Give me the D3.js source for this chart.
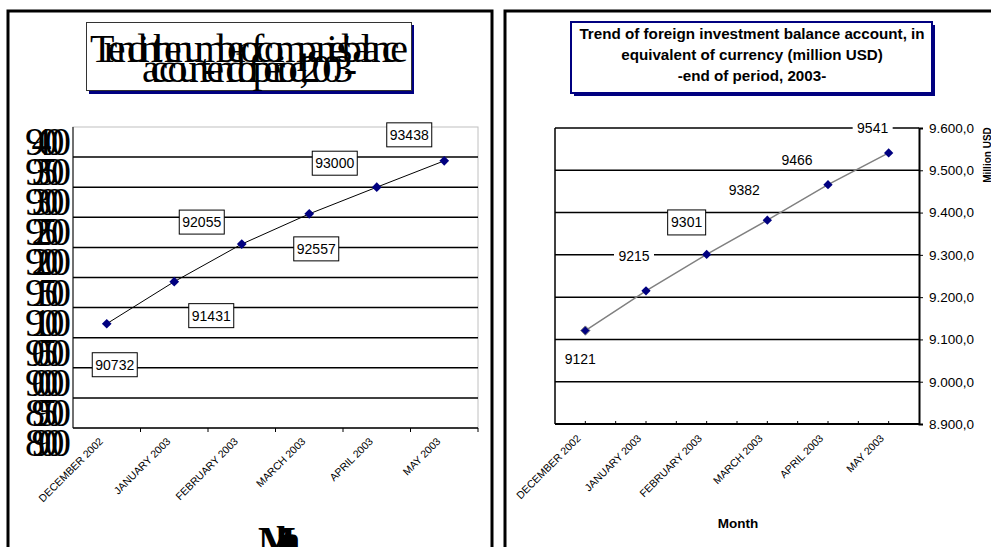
<!DOCTYPE html>
<html><head><meta charset="utf-8">
<script src="https://cdn.jsdelivr.net/npm/d3@7"></script>
<style>html,body{margin:0;padding:0;background:#fff;}svg{display:block;}</style>
</head><body>
<svg id="c" width="991" height="547"></svg>
<script>
// ---- data ----
const months = ["DECEMBER 2002","JANUARY 2003","FEBRUARY 2003","MARCH 2003","APRIL 2003","MAY 2003"];
const companies = [90732, 91431, 92055, 92557, 93000, 93438];
const investment = [9121, 9215, 9301, 9382, 9466, 9541];
const leftTicks = [89000,89500,90000,90500,91000,91500,92000,92500,93000,93500,94000];
const rightTicks = [8900,9000,9100,9200,9300,9400,9500,9600];
const leftTitle = ["Trend in the number of companies' balance","account -end of period, 2003-"];
const rightTitle = ["Trend of foreign investment balance account, in","equivalent of currency (million USD)","-end of period, 2003-"];
const xTitle = "Month";
const rightYTitle = "Million USD";

// ---- layout (label offsets from their points) ----
const leftLabelOff = [[8,41],[37,34],[-40,-22],[7,35],[-42,-24],[-35,-26]];
const rightLabelOff = [[-5,28],[-12,-35],[-20,-32],[-23,-30],[-31,-25],[-16,-25]];
const rightLabelBoxed = [false,false,true,false,false,false];

const svg = d3.select("#c");
const SANS = "'Liberation Sans', Arial, sans-serif";
const SERIF = "'Liberation Serif', 'Times New Roman', serif";

// panels
svg.append("rect").attr("x",8).attr("y",11).attr("width",484).attr("height",560)
  .attr("fill","none").attr("stroke","#000").attr("stroke-width",3);
svg.append("rect").attr("x",505).attr("y",11).attr("width",500).attr("height",560)
  .attr("fill","none").attr("stroke","#000").attr("stroke-width",3);

// ================= LEFT CHART =================
const L = {l:73, r:478, t:127, b:428};
const xL = d3.scaleBand().domain(months).range([L.l, L.r]);
const yL = d3.scaleLinear().domain([89000,94000]).range([L.b, L.t]);
const gL = svg.append("g");

// title box
gL.append("rect").attr("x",89).attr("y",25).attr("width",325).attr("height",69).attr("fill","#000080");
gL.append("rect").attr("x",86.5).attr("y",22.5).attr("width",325).attr("height",68)
  .attr("fill","#fff").attr("stroke","#333").attr("stroke-width",1);
gL.append("text").attr("x",90).attr("y",62).attr("font-family",SERIF).attr("font-size",40)
  .attr("textLength",318).attr("lengthAdjust","spacing").text(leftTitle[0]);
gL.append("text").attr("x",142).attr("y",82).attr("font-family",SERIF).attr("font-size",40)
  .attr("textLength",215).attr("lengthAdjust","spacing").text(leftTitle[1]);

// plot border
gL.append("rect").attr("x",L.l).attr("y",L.t).attr("width",L.r-L.l).attr("height",L.b-L.t)
  .attr("fill","none").attr("stroke","#c0c0c0").attr("stroke-width",1);
// gridlines
gL.selectAll("line.grid").data(leftTicks.filter(v=>v>89000 && v<94000)).join("line")
  .attr("x1",L.l).attr("x2",L.r).attr("y1",d=>yL(d)).attr("y2",d=>yL(d))
  .attr("stroke","#000").attr("stroke-width",1.5);
// axes
const xgL = gL.append("g").attr("transform",`translate(0,${L.b})`);
xgL.append("line").attr("x1",L.l).attr("x2",L.r).attr("stroke","#000").attr("stroke-width",1.5);
xgL.selectAll("line.bt").data(months).join("line")
  .attr("x1",d=>xL(d)+xL.bandwidth()).attr("x2",d=>xL(d)+xL.bandwidth())
  .attr("y1",0).attr("y2",4).attr("stroke","#000");
gL.append("line").attr("x1",L.l).attr("x2",L.l).attr("y1",L.t).attr("y2",L.b).attr("stroke","#000").attr("stroke-width",1);
// y tick labels (squeezed serif)
gL.selectAll("text.yl").data(leftTicks).join("text")
  .attr("x",25).attr("y",d=>yL(d)+28).attr("font-family",SERIF).attr("font-size",40)
  .attr("textLength",46).attr("lengthAdjust","spacing").text(d=>d);
// x labels
gL.selectAll("text.xl").data(months).join("text")
  .attr("transform",d=>`translate(${xL(d)+xL.bandwidth()/2-3},${L.b+14}) rotate(-45)`)
  .attr("text-anchor","end").attr("font-family",SANS).attr("font-size",10.5).text(d=>d);
// x title
gL.append("text").attr("x",258).attr("y",554).attr("font-family",SERIF).attr("font-weight","bold")
  .attr("font-size",40).attr("textLength",40).attr("lengthAdjust","spacing").text(xTitle);
// line
const lineL = d3.line().x((d,i)=>xL(months[i])+xL.bandwidth()/2).y(d=>yL(d));
gL.append("path").datum(companies).attr("d",lineL).attr("fill","none").attr("stroke","#000").attr("stroke-width",1);
const diamond = d3.symbol().type(d3.symbolDiamond2);
gL.selectAll("path.pt").data(companies).join("path")
  .attr("transform",(d,i)=>`translate(${xL(months[i])+xL.bandwidth()/2},${yL(d)})`)
  .attr("d",diamond.size(60)).attr("fill","#000080");
// labels
companies.forEach((v,i)=>{
  const cx = xL(months[i])+xL.bandwidth()/2+leftLabelOff[i][0];
  const cy = yL(v)+leftLabelOff[i][1];
  gL.append("rect").attr("x",cx-22.5).attr("y",cy-12).attr("width",45).attr("height",24)
    .attr("fill","#fff").attr("stroke","#000").attr("stroke-width",1);
  gL.append("text").attr("x",cx).attr("y",cy+5).attr("text-anchor","middle")
    .attr("font-family",SANS).attr("font-size",14).text(v);
});

// ================= RIGHT CHART =================
const R = {l:555, r:919, t:128, b:424};
const xR = d3.scaleBand().domain(months).range([R.l, R.r]);
const yR = d3.scaleLinear().domain([8900,9600]).range([R.b, R.t]);
const gR = svg.append("g");

// title box
gR.append("rect").attr("x",574).attr("y",25).attr("width",361).attr("height",71).attr("fill","#000080");
gR.append("rect").attr("x",571).attr("y",22).attr("width",361).attr("height",71)
  .attr("fill","#fff").attr("stroke","#000080").attr("stroke-width",2);
gR.selectAll("text.tt").data(rightTitle).join("text")
  .attr("x",752).attr("y",(d,i)=>39+i*21).attr("text-anchor","middle")
  .attr("font-family",SANS).attr("font-weight","bold").attr("font-size",15.2).text(d=>d);

// gridlines
gR.selectAll("line.grid").data(rightTicks.filter(v=>v>8900)).join("line")
  .attr("x1",R.l).attr("x2",R.r).attr("y1",d=>yR(d)).attr("y2",d=>yR(d))
  .attr("stroke","#000").attr("stroke-width",1.5);
gR.append("line").attr("x1",R.l).attr("x2",R.l).attr("y1",R.t).attr("y2",R.b).attr("stroke","#000").attr("stroke-width",1.5);
// bottom axis with half-category ticks pointing up
gR.append("line").attr("x1",R.l).attr("x2",R.r).attr("y1",R.b).attr("y2",R.b).attr("stroke","#000").attr("stroke-width",2);
const halfTicks = d3.range(1, months.length*2);
gR.selectAll("line.ht").data(halfTicks).join("line")
  .attr("x1",d=>R.l+xR.bandwidth()*d/2).attr("x2",d=>R.l+xR.bandwidth()*d/2)
  .attr("y1",R.b).attr("y2",R.b-3).attr("stroke","#000");
// right axis
const yAxR = d3.axisRight(yR).tickValues(rightTicks).tickSize(4)
  .tickFormat(d=>d3.format(",.1f")(d).replace(/,/g,"#").replace(".",",").replace(/#/g,"."));
const ygR = gR.append("g").attr("transform",`translate(${R.r},0)`).call(yAxR);
ygR.select(".domain").attr("stroke-width",2);
ygR.selectAll("text").attr("font-family",SANS).attr("font-size",13.5).attr("fill","#000").attr("x",10);
ygR.selectAll("line").attr("stroke","#000");
// y title
gR.append("text").attr("transform",`translate(991,155) rotate(-90)`).attr("text-anchor","middle")
  .attr("font-family",SANS).attr("font-weight","bold").attr("font-size",10).text(rightYTitle);
// x labels
gR.selectAll("text.xl").data(months).join("text")
  .attr("transform",d=>`translate(${xR(d)+xR.bandwidth()/2-4},${R.b+15}) rotate(-45)`)
  .attr("text-anchor","end").attr("font-family",SANS).attr("font-size",10.5).text(d=>d);
gR.append("text").attr("x",738).attr("y",528).attr("text-anchor","middle")
  .attr("font-family",SANS).attr("font-weight","bold").attr("font-size",13.5).text(xTitle);
// line
const lineR = d3.line().x((d,i)=>xR(months[i])+xR.bandwidth()/2).y(d=>yR(d));
gR.append("path").datum(investment).attr("d",lineR).attr("fill","none").attr("stroke","#808080").attr("stroke-width",1.5);
gR.selectAll("path.pt").data(investment).join("path")
  .attr("transform",(d,i)=>`translate(${xR(months[i])+xR.bandwidth()/2},${yR(d)})`)
  .attr("d",diamond.size(55)).attr("fill","#000080").attr("stroke",(d,i)=>i===0?"#808080":"none");
// labels
investment.forEach((v,i)=>{
  const cx = xR(months[i])+xR.bandwidth()/2+rightLabelOff[i][0];
  const cy = yR(v)+rightLabelOff[i][1];
  if (rightLabelBoxed[i]) {
    gR.append("rect").attr("x",cx-19).attr("y",cy-12.5).attr("width",38).attr("height",25)
      .attr("fill","#fff").attr("stroke","#000").attr("stroke-width",1);
  } else {
    gR.append("rect").attr("x",cx-20).attr("y",cy-9).attr("width",40).attr("height",18).attr("fill","#fff");
  }
  gR.append("text").attr("x",cx).attr("y",cy+5).attr("text-anchor","middle")
    .attr("font-family",SANS).attr("font-size",14).text(v);
});
</script>
</body></html>
